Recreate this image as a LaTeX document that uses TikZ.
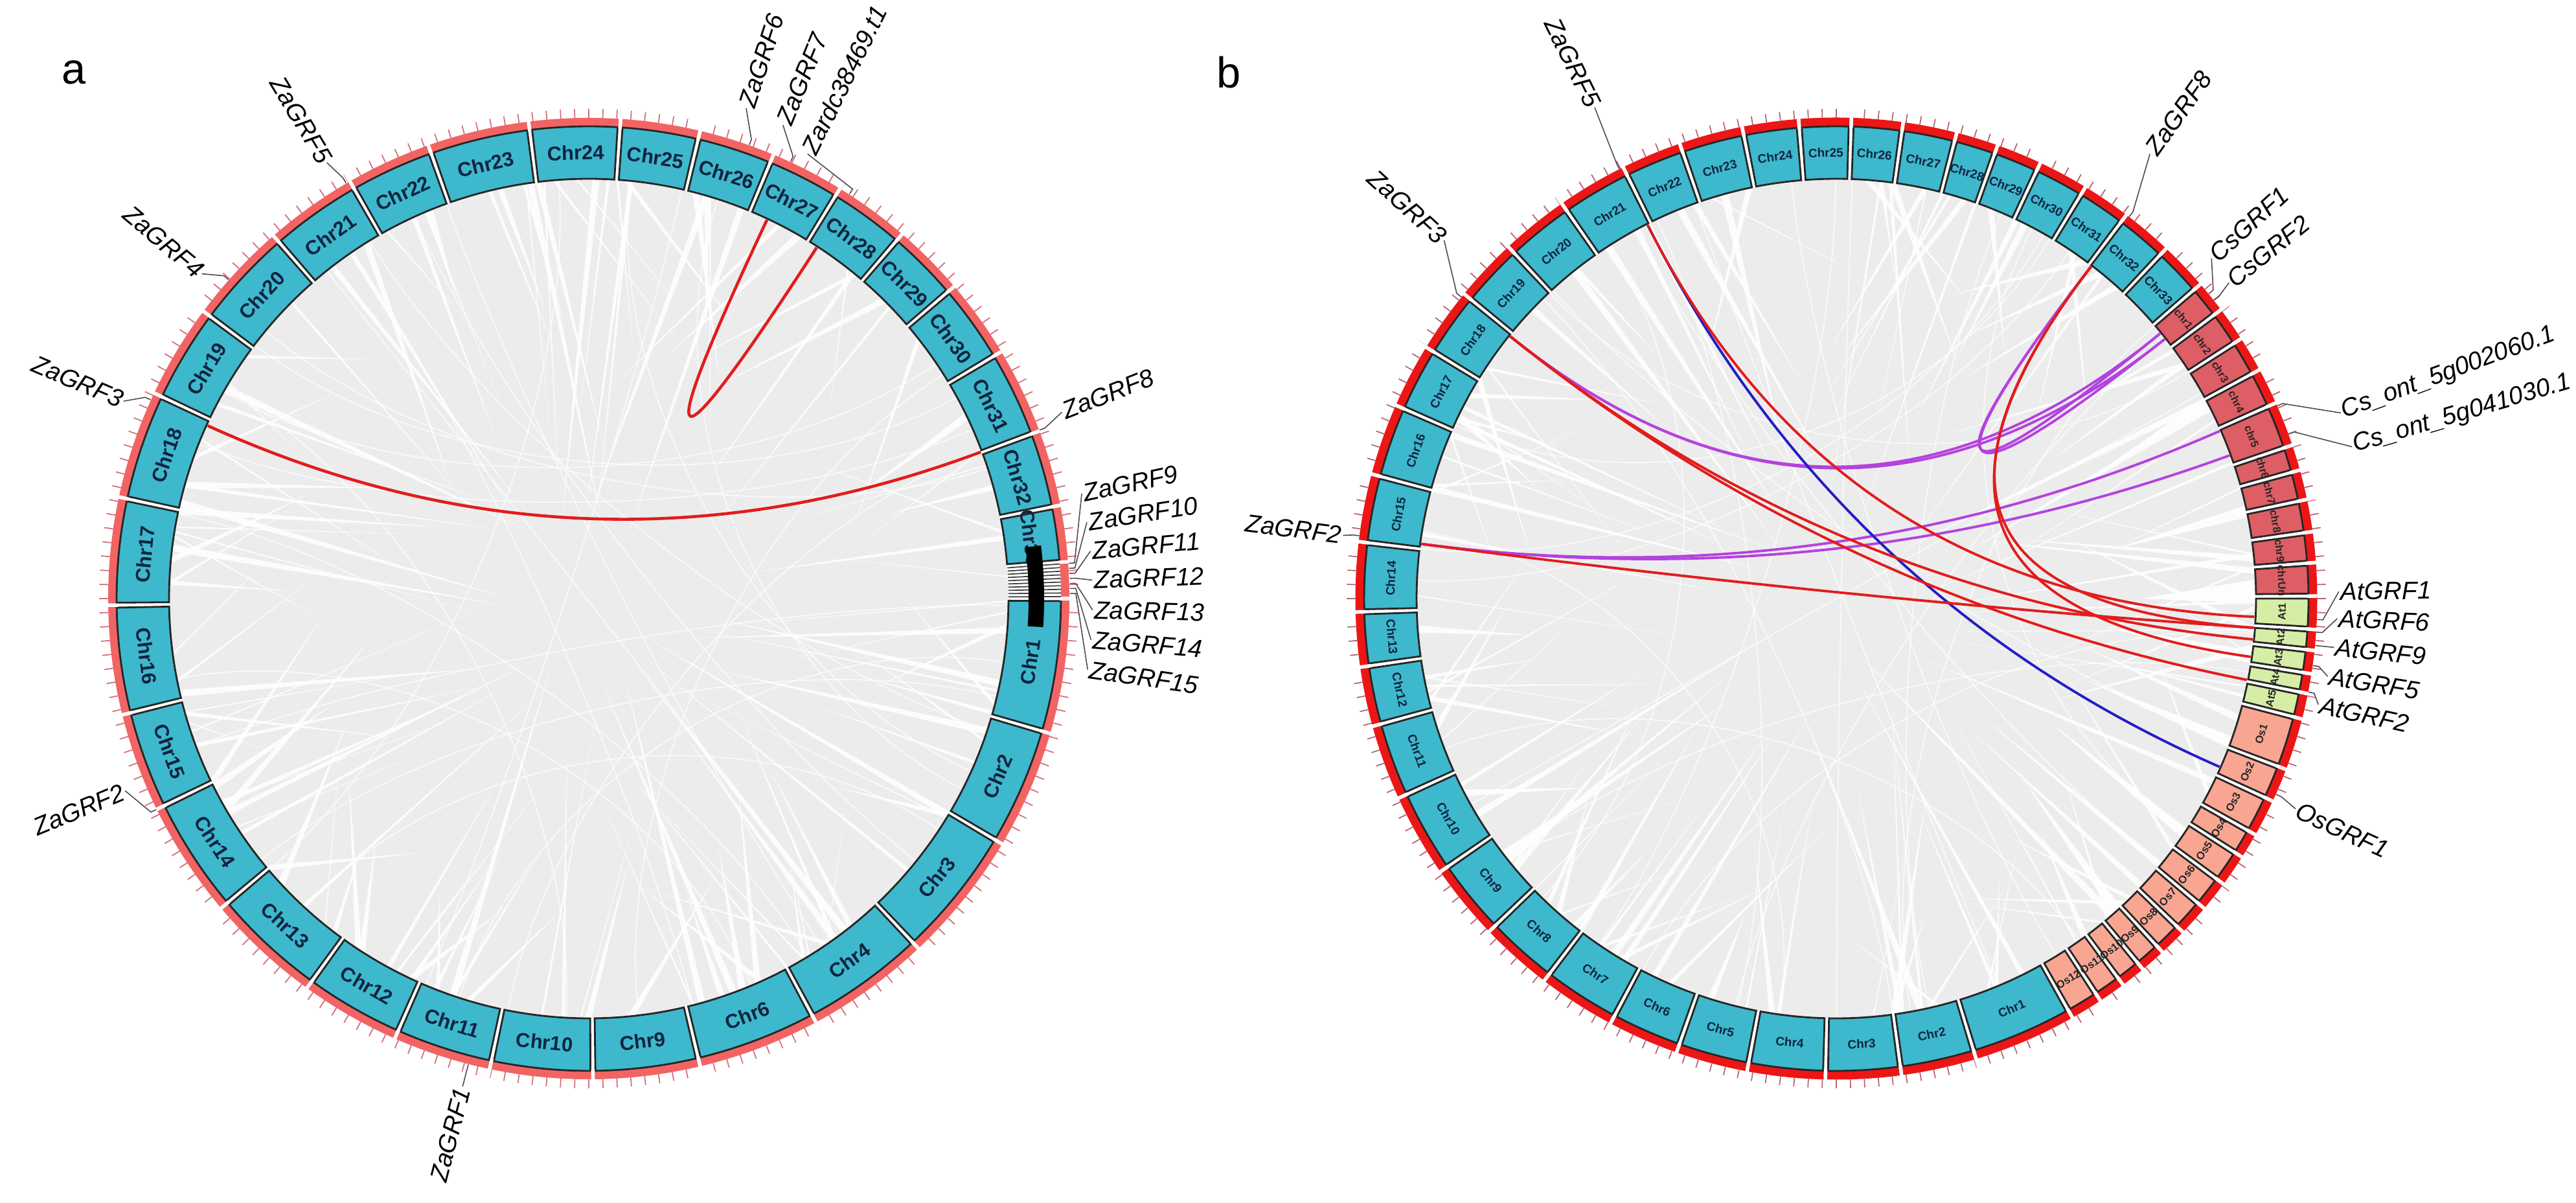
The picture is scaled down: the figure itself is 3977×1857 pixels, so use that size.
\documentclass[tikz,border=0pt]{standalone}
\usepackage{fontspec}
\setmainfont{Liberation Sans}
\usetikzlibrary{calc}
\definecolor{zacyan}{RGB}{62,184,204}
\definecolor{csred}{RGB}{222,94,102}
\definecolor{atgreen}{RGB}{214,237,166}
\definecolor{osred}{RGB}{248,166,146}
\definecolor{banda}{RGB}{242,100,100}
\definecolor{bandb}{RGB}{236,22,22}
\definecolor{ticka}{RGB}{214,110,122}
\definecolor{tickb}{RGB}{186,100,112}
\definecolor{linkgray}{RGB}{236,236,236}
\definecolor{navy}{RGB}{16,36,64}
\definecolor{linkred}{RGB}{226,28,28}
\definecolor{linkpurple}{RGB}{180,66,222}
\definecolor{linkblue}{RGB}{36,30,196}
\tikzset{
  boxstyle/.style={draw=black!85, line width=0.8pt},
  chrlab/.style={font=\bfseries\fontsize{8.8}{8.8}\selectfont, text=navy, inner sep=0pt},
  chrlabb/.style={font=\bfseries\fontsize{5.4}{5.4}\selectfont, text=navy, inner sep=0pt},
  smalllab/.style={font=\bfseries\fontsize{4.7}{4.7}\selectfont, text=black!85, inner sep=0pt},
  genelabel/.style={font=\itshape\fontsize{11}{11}\selectfont, inner sep=0.6pt},
  conn/.style={draw=black!70, line width=0.45pt},
  panellab/.style={font=\fontsize{19}{19}\selectfont, inner sep=0pt},
  redlinka/.style={draw=linkred, line width=1.3pt},
  redlink/.style={draw=linkred, line width=1.1pt},
  purplelink/.style={draw=linkpurple, line width=1.1pt},
  bluelink/.style={draw=linkblue, line width=1.1pt},
  gapline/.style={draw=white, line width=1.5pt},
  meshline/.style={draw=white, line width=0.5pt, opacity=0.7},
}
% chromosome sector: #1 start, #2 end, #3 fill, #4 label, #5 label style, #6 prefix
\newcommand{\chrsector}[6]{%
  \pgfmathsetmacro\cbs{#1-0.3}%
  \pgfmathsetmacro\cbe{#2+0.3}%
  \filldraw[boxstyle, fill=#3] (\cbs:648) arc[start angle=\cbs, end angle=\cbe, radius=648] -- (\cbe:729) arc[start angle=\cbe, end angle=\cbs, radius=729] -- cycle;%
  \draw[gapline] (#1:727) -- (#1:759);%
  \draw[gapline] (#2:727) -- (#2:759);%
  \pgfmathsetmacro\cbm{(#1+#2)/2}%
  \pgfmathsetmacro\cbn{mod(\cbm+720,360)}%
  \pgfmathsetmacro\cbr{ifthenelse(\cbn<180,\cbn-90,\cbn+90)}%
  \node[#5, rotate=\cbr] (#6#4) at (\cbm:688.5) {#4};%
}
% gene label: #1 name, #2 gene angle, #3 label angle, #4 label radius, #5 text
\newcommand{\genelab}[5]{%
  \pgfmathsetmacro\gln{mod(#3+720,360)}%
  \pgfmathtruncatemacro\glside{or(\gln<90,\gln>270)}%
  \coordinate (#1o) at (#2:743);%
  \ifnum\glside=1
    \node[genelabel, anchor=west, rotate=#3] (#1) at (#3:#4) {#5};%
    \draw[conn] (#1o) -- (#2:752) -- (#1.west);%
  \else
    \node[genelabel, anchor=east, rotate=#3+180] (#1) at (#3:#4) {#5};%
    \draw[conn] (#1o) -- (#2:752) -- (#1.east);%
  \fi
}
% link: #1 centre, #2 from, #3 to, #4 style
\newcommand{\chordlink}[4]{%
  \draw[#4] (#2) .. controls ($(#1)!0.3333!(#2)$) and ($(#1)!0.3333!(#3)$) .. (#3);%
}
% white gaps in the grey link mass
\newcommand{\linkwedges}[2]{%
  \pgfmathsetseed{#1}%
  \foreach \i in {1,...,#2}{%
    \pgfmathsetmacro\wa{rnd*360}%
    \pgfmathsetmacro\ww{0.08+rnd*0.45}%
    \pgfmathsetmacro\wt{\wa+(rnd-0.5)*50}%
    \pgfmathsetmacro\wr{90+rnd*430}%
    \fill[white, opacity=0.85] (\wa-\ww:647) -- (\wa+\ww:647) -- (\wt:\wr) -- cycle;%
  }%
  \foreach \i in {1,...,22}{%
    \pgfmathsetmacro\ma{rnd*360}%
    \pgfmathsetmacro\mb{\ma+90+rnd*180}%
    \draw[meshline] (\ma:646) .. controls (\ma:300) and (\mb:300) .. (\mb:646);%
  }%
}
\begin{document}
\begin{tikzpicture}[x=0.01cm,y=0.01cm]
\useasboundingbox (0,0) rectangle (3977,1857);
\fill[white] (0,0) rectangle (3977,1857);

\node[panellab] (pa) at (114,1745) {a};
\node[panellab] (pb) at (1897,1745) {b};

%================ PANEL A =================
\begin{scope}[shift={(909,933)}]
\coordinate (ca) at (0,0);
\fill[linkgray] (ca) circle[radius=647];
\linkwedges{17}{130}
% gene positions
\coordinate (aG3) at (155.6:646);
\coordinate (aG8) at (20.5:646);
\coordinate (aG7) at (64.8:646);
\coordinate (aGz) at (57:646);
\chordlink{ca}{aG3}{aG8}{redlinka}
\chordlink{ca}{aG7}{aGz}{redlinka}
% band and ticks
\draw[banda, line width=3.7pt] (ca) circle[radius=735.5];
\foreach \k in {0,...,215} \draw[ticka, line width=0.5pt] (\k*1.6667:741) -- (\k*1.6667:756);
% chromosomes
\foreach \s/\e/\l in {0/-16.3/Chr1, -16.3/-30.7/Chr2, -30.7/-46.7/Chr3, -46.7/-61.8/Chr4,
  -61.8/-76.6/Chr6, -76.6/-89.5/Chr9, -89.5/-101.9/Chr10, -101.9/-113.8/Chr11,
  -113.8/-125.9/Chr12, -125.9/-139.9/Chr13, -139.9/-154/Chr14, -154/-166/Chr15,
  -166/-179.2/Chr16, 180.8/167.8/Chr17, 167.8/154.7/Chr18, 154.7/143.3/Chr19,
  143.3/131/Chr20, 131/119.8/Chr21, 119.8/109.5/Chr22, 109.5/97.2/Chr23,
  97.2/86.2/Chr24, 86.2/76.6/Chr25, 76.6/67.4/Chr26, 67.4/58.5/Chr27,
  58.5/49.3/Chr28, 49.3/40.5/Chr29, 40.5/30.9/Chr30, 30.9/20.4/Chr31,
  20.4/11.2/Chr32, 11.2/4.4/Chr33}
  {\chrsector{\s}{\e}{zacyan}{\l}{chrlab}{a}}
% small scaffolds
\foreach \k in {0,...,9} \draw[black!75, line width=0.5pt] (4.2-\k*0.44:648) -- (4.2-\k*0.44:729);
\fill[black] (6.7:679) arc[start angle=6.7, end angle=-3.6, radius=679] -- (-3.6:703) arc[start angle=-3.6, end angle=6.7, radius=703] -- cycle;
% gene labels
\genelab{aL1}{-104.5}{-104.5}{778}{ZaGRF1}
\genelab{aL2}{-154}{-157.5}{775}{ZaGRF2}
\genelab{aL3}{155.6}{157}{780}{ZaGRF3}
\genelab{aL4}{138.5}{140}{780}{ZaGRF4}
\genelab{aL5}{120.3}{121}{785}{ZaGRF5}
\genelab{aL6}{70.5}{72.2}{795}{ZaGRF6}
\genelab{aL7}{65.2}{67.7}{790}{ZaGRF7}
\genelab{aLz}{57.2}{63.8}{765}{Zardc38469.t1}
\genelab{aL8}{20.5}{21.5}{785}{ZaGRF8}
\genelab{aL9}{4.2}{12}{778}{ZaGRF9}
\genelab{aL10}{3.6}{8.7}{778}{ZaGRF10}
\genelab{aL11}{3.0}{5.4}{778}{ZaGRF11}
\genelab{aL12}{2.4}{2.1}{778}{ZaGRF12}
\genelab{aL13}{1.8}{-1.3}{778}{ZaGRF13}
\genelab{aL14}{1.2}{-4.7}{778}{ZaGRF14}
\genelab{aL15}{0.6}{-8.1}{778}{ZaGRF15}
\end{scope}

%================ PANEL B =================
\begin{scope}[shift={(2835,933)}]
\coordinate (cb) at (0,0);
\fill[linkgray] (cb) circle[radius=647];
\linkwedges{29}{130}
\foreach \wa/\ww/\wt/\wr in {1/1.6/0/470, -8/0.9/-6/420, -20/0.8/-18/400, -34/0.7/-30/380, 12/0.8/10/430, 28/0.6/25/420, -48/0.7/-44/400}
  {\fill[white, opacity=0.9] (\wa-\ww:647) -- (\wa+\ww:647) -- (\wt:\wr) -- cycle;}
% gene positions
\coordinate (bG5) at (116.8:646);
\coordinate (bG3) at (141.2:646);
\coordinate (bG2) at (172.5:646);
\coordinate (bG8) at (52.5:646);
\coordinate (bCs1) at (39.3:646);
\coordinate (bCs2) at (38.3:646);
\coordinate (bCo1) at (23.6:646);
\coordinate (bCo2) at (20:646);
\coordinate (bAt1) at (-2.5:646);
\coordinate (bAt6) at (-4:646);
\coordinate (bAt9) at (-5.6:646);
\coordinate (bAt5) at (-8:646);
\coordinate (bAt2) at (-11.2:646);
\coordinate (bOs1) at (-23.7:646);
% links
\chordlink{cb}{bG3}{bCs1}{purplelink}
\chordlink{cb}{bG3}{bCs2}{purplelink}
\chordlink{cb}{bG8}{bCs1}{purplelink}
\chordlink{cb}{bG8}{bCs2}{purplelink}
\chordlink{cb}{bG2}{bCo1}{purplelink}
\chordlink{cb}{bG2}{bCo2}{purplelink}
\chordlink{cb}{bG5}{bOs1}{bluelink}
\chordlink{cb}{bG2}{bAt6}{redlink}
\chordlink{cb}{bG5}{bAt1}{redlink}
\chordlink{cb}{bG3}{bAt9}{redlink}
\chordlink{cb}{bG3}{bAt2}{redlink}
\chordlink{cb}{bG8}{bAt6}{redlink}
\chordlink{cb}{bG8}{bAt5}{redlink}
% band and ticks
\draw[bandb, line width=3.7pt] (cb) circle[radius=736];
\foreach \k in {0,...,215} \draw[tickb, line width=0.5pt] (\k*1.6667:742) -- (\k*1.6667:756);
% chromosomes
\foreach \s/\e/\l in {-60.6/-73.1/Chr1, -73.1/-82.2/Chr2, -82.2/-91.3/Chr3, -91.3/-100.7/Chr4,
  -100.7/-109.4/Chr5, -109.4/-118/Chr6, -118/-127.4/Chr7, -127.4/-136.2/Chr8,
  -136.2/-145.4/Chr9, -145.4/-155.5/Chr10, -155.5/-164.6/Chr11, -164.6/-171.8/Chr12,
  -171.8/-178.4/Chr13, 181.6/173.2/Chr14, 173.2/165/Chr15, 165/156.3/Chr16,
  156.3/148.5/Chr17, 148.5/140.7/Chr18, 140.7/133/Chr19, 133/124.8/Chr20,
  124.8/116.3/Chr21, 116.3/109/Chr22, 109/101.3/Chr23, 101.3/94.5/Chr24,
  94.5/88.2/Chr25, 88.2/82/Chr26, 82/75.5/Chr27, 75.5/70.4/Chr28,
  70.4/64.9/Chr29, 64.9/58.8/Chr30, 58.8/52.9/Chr31, 52.9/46.7/Chr32, 46.7/40.8/Chr33}
  {\chrsector{\s}{\e}{zacyan}{\l}{chrlabb}{b}}
\foreach \s/\e/\l in {40.8/36.9/chr1, 36.9/32.7/chr2, 32.7/28.4/chr3, 28.4/24/chr4,
  24/18.6/chr5, 18.6/15.5/chr6, 15.5/11.9/chr7, 11.9/8/chr8, 8/4.3/chr9, 4.3/0.3/chrUn}
  {\chrsector{\s}{\e}{csred}{\l}{smalllab}{b}}
\foreach \s/\e/\l in {0.3/-3.7/At1, -3.7/-6.2/At2, -6.2/-9/At3, -9/-11.4/At4, -11.4/-14.5/At5}
  {\chrsector{\s}{\e}{atgreen}{\l}{smalllab}{b}}
\foreach \s/\e/\l in {-14.5/-20.8/Os1, -20.8/-24.9/Os2, -24.9/-29.4/Os3, -29.4/-32.5/Os4,
  -32.5/-36.4/Os5, -36.4/-40.1/Os6, -40.1/-43.9/Os7, -43.9/-47.3/Os8,
  -47.3/-50.4/Os9, -50.4/-53.4/Os10, -53.4/-56.7/Os11, -56.7/-60.6/Os12}
  {\chrsector{\s}{\e}{osred}{\l}{smalllab}{b}}
% gene labels
\genelab{bL5}{116.8}{116.2}{845}{ZaGRF5}
\genelab{bL3}{141.2}{137.6}{820}{ZaGRF3}
\genelab{bL2}{172.5}{172.7}{768}{ZaGRF2}
\genelab{bL8}{52.5}{54.8}{840}{ZaGRF8}
\genelab{bC1}{39.3}{42.2}{782}{CsGRF1}
\genelab{bC2}{38.3}{38.8}{778}{CsGRF2}
\genelab{bC3}{23.6}{20.2}{830}{Cs\_ont\_5g002060.1}
\genelab{bC4}{20}{16.4}{830}{Cs\_ont\_5g041030.1}
\genelab{bA1}{-2.5}{0.8}{776}{AtGRF1}
\genelab{bA6}{-4}{-2.3}{774}{AtGRF6}
\genelab{bA9}{-5.6}{-5.6}{772}{AtGRF9}
\genelab{bA5}{-8}{-9}{768}{AtGRF5}
\genelab{bA2}{-11.2}{-12.4}{762}{AtGRF2}
\genelab{bO1}{-24}{-24.6}{780}{OsGRF1}
\end{scope}
\end{tikzpicture}
\end{document}
